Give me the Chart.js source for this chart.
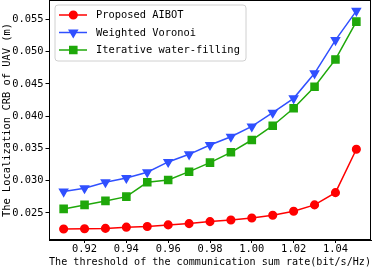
<!DOCTYPE html>
<html>
<head>
<meta charset="utf-8">
<script src="https://cdn.jsdelivr.net/npm/chart.js@4/dist/chart.umd.min.js"></script>
<style>
  html, body { margin: 0; padding: 0; background: #fff; }
  #wrap { width: 374px; height: 267px; }
</style>
</head>
<body>
<div id="wrap"><canvas id="c" width="374" height="267"></canvas></div>
<script>
const thresholds = [0.91, 0.92, 0.93, 0.94, 0.95, 0.96, 0.97, 0.98, 0.99, 1.00, 1.01, 1.02, 1.03, 1.04, 1.05];
const proposedAIBOT = [0.0225, 0.02255, 0.0226, 0.02279, 0.0229, 0.02314, 0.02334, 0.02365, 0.0239, 0.0242, 0.02464, 0.02526, 0.02624, 0.02814, 0.03486];
const weightedVoronoi = [0.0283, 0.02882, 0.02975, 0.03042, 0.0313, 0.0329, 0.03408, 0.03553, 0.03681, 0.0384, 0.04053, 0.04276, 0.04663, 0.05178, 0.05632];
const iterativeWaterFilling = [0.02562, 0.02624, 0.02686, 0.02752, 0.02975, 0.03011, 0.03139, 0.03279, 0.03439, 0.0363, 0.03851, 0.04121, 0.04455, 0.04879, 0.05465];
const xTickValues = [0.92, 0.94, 0.96, 0.98, 1.00, 1.02, 1.04];
const yTickValues = [0.025, 0.030, 0.035, 0.040, 0.045, 0.050, 0.055];
const seriesNames = ['Proposed AIBOT', 'Weighted Voronoi', 'Iterative water-filling'];

const FONT = "'DejaVu Sans Mono', monospace";
const RED = '#ff0000', BLUE = '#3050ff', GREEN = '#1fa80a';

function pts(vals) { return thresholds.map((x, i) => ({ x: x, y: vals[i] })); }

const frame = {
  id: 'frame',
  afterDraw(chart) {
    const { ctx, chartArea: a } = chart;
    ctx.save();
    ctx.strokeStyle = '#000';
    ctx.lineWidth = 1;
    ctx.strokeRect(Math.round(a.left) + 0.5, Math.round(a.top) + 0.5, Math.round(a.right - a.left) - 1, Math.round(a.bottom - a.top) - 1);
    ctx.restore();
  }
};

const legendBox = {
  id: 'legendBox',
  afterDraw(chart) {
    const ctx = chart.ctx;
    const x0 = 55, y0 = 5, w = 191, h = 56, r = 3;
    ctx.save();
    ctx.beginPath();
    ctx.moveTo(x0 + r, y0);
    ctx.arcTo(x0 + w, y0, x0 + w, y0 + h, r);
    ctx.arcTo(x0 + w, y0 + h, x0, y0 + h, r);
    ctx.arcTo(x0, y0 + h, x0, y0, r);
    ctx.arcTo(x0, y0, x0 + w, y0, r);
    ctx.closePath();
    ctx.fillStyle = 'rgba(255,255,255,0.85)';
    ctx.fill();
    ctx.strokeStyle = '#d0d0d0';
    ctx.lineWidth = 1;
    ctx.stroke();
    const rows = [15, 32.5, 50];
    chart.data.datasets.forEach((ds, i) => {
      const y = rows[i];
      ctx.strokeStyle = ds.borderColor;
      ctx.lineWidth = ds.borderWidth;
      ctx.beginPath();
      ctx.moveTo(59, y);
      ctx.lineTo(87, y);
      ctx.stroke();
      ctx.fillStyle = ds.pointBackgroundColor;
      ctx.strokeStyle = ds.pointBorderColor;
      Chart.helpers.drawPoint(ctx, {
        pointStyle: ds.pointStyle,
        radius: ds.pointRadius,
        rotation: ds.pointRotation || 0,
        borderWidth: 1
      }, 73.3, y);
      ctx.fillStyle = '#000';
      ctx.font = "10.4px " + FONT;
      ctx.textBaseline = 'middle';
      ctx.textAlign = 'left';
      ctx.fillText(ds.label, 96, y + 0.5);
    });
    ctx.restore();
  }
};

new Chart(document.getElementById('c'), {
  type: 'line',
  data: {
    datasets: [
      { label: seriesNames[0], data: pts(proposedAIBOT), borderColor: RED, backgroundColor: RED,
        pointBackgroundColor: RED, pointBorderColor: RED, pointStyle: 'circle', pointRadius: 3.8, borderWidth: 1.5 },
      { label: seriesNames[1], data: pts(weightedVoronoi), borderColor: BLUE, backgroundColor: BLUE,
        pointBackgroundColor: BLUE, pointBorderColor: BLUE, pointStyle: 'triangle', pointRotation: 180, pointRadius: 4.6, borderWidth: 1.5 },
      { label: seriesNames[2], data: pts(iterativeWaterFilling), borderColor: GREEN, backgroundColor: GREEN,
        pointBackgroundColor: GREEN, pointBorderColor: GREEN, pointStyle: 'rect', pointRadius: 5, borderWidth: 1.5 }
    ]
  },
  options: {
    responsive: false,
    animation: false,
    devicePixelRatio: 1,
    layout: { autoPadding: false, padding: { left: 0, right: 3, top: 0, bottom: 0 } },
    plugins: { legend: { display: false }, tooltip: { enabled: false } },
    elements: { line: { tension: 0 }, point: { borderWidth: 1, hoverRadius: 4 } },
    scales: {
      x: {
        type: 'linear',
        min: 0.903, max: 1.057,
        afterBuildTicks(s) { s.ticks = xTickValues.map(v => ({ value: v })); },
        afterFit(s) { s.height = 27; s.paddingLeft = 0; s.paddingRight = 0; },
        ticks: {
          callback: v => v.toFixed(2),
          color: '#000', font: { family: FONT, size: 10.4 }, padding: 0, maxRotation: 0, autoSkip: false
        },
        grid: { display: true, drawOnChartArea: false, drawTicks: true, tickLength: 3, color: '#000' },
        border: { display: true, color: '#000' },
        title: { display: true, text: 'The threshold of the communication sum rate(bit/s/Hz)', color: '#000',
                 font: { family: FONT, size: 10.4 }, padding: { top: 3, bottom: -2 } }
      },
      y: {
        type: 'linear',
        min: 0.0208, max: 0.058,
        afterBuildTicks(s) { s.ticks = yTickValues.map(v => ({ value: v })); },
        afterFit(s) { s.width = 49; s.paddingTop = 0; s.paddingBottom = 0; },
        ticks: {
          callback: v => v.toFixed(3),
          color: '#000', font: { family: FONT, size: 10.4 }, padding: 2, autoSkip: false
        },
        grid: { display: true, drawOnChartArea: false, drawTicks: true, tickLength: 3.5, color: '#000' },
        border: { display: true, color: '#000' },
        title: { display: true, text: 'The Localization CRB of UAV (m)', color: '#000',
                 font: { family: FONT, size: 10.4 }, padding: { top: 1, bottom: 0 } }
      }
    }
  },
  plugins: [frame, legendBox]
});
</script>
</body>
</html>
